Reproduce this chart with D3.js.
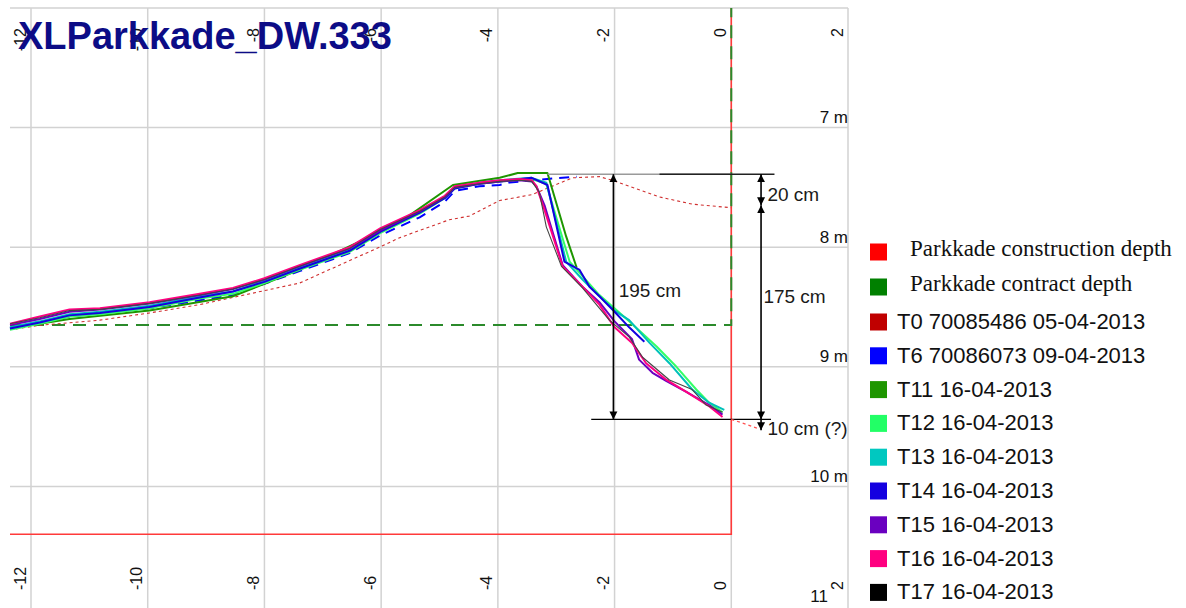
<!DOCTYPE html>
<html>
<head>
<meta charset="utf-8">
<script src="https://cdn.jsdelivr.net/npm/d3@7/dist/d3.min.js"></script>
<style>
  body { margin: 0; background: #fff; }
  svg { display: block; font-family: "Liberation Sans", Arial, sans-serif; }
</style>
</head>
<body>
<svg id="chart" width="1186" height="608"></svg>
<script>
// --- data (distance in m, depth in m) ---
const title = "XLParkkade_DW.333";
const xTicks = [-12, -10, -8, -6, -4, -2, 0, 2];
const yTicks = [7, 8, 9, 10, 11];
const yTickLabels = ["7 m", "8 m", "9 m", "10 m", "11"];
const gridDepths = [6, 7, 8, 9, 10];

const constructionDepth = [[-12.36, 10.40], [0, 10.40], [0, 6]];
const contractDepth = [[-12.36, 8.65], [0, 8.65], [0, 6]];

const t0 = [[-12.36,8.69],[-11.80,8.65],[-10.82,8.61],[-9.97,8.55],[-9.11,8.48],[-7.97,8.36],[-7.40,8.30],
  [-6.03,8.00],[-5.68,7.92],[-4.83,7.77],[-4.49,7.74],[-3.97,7.61],[-3.41,7.56],[-3.07,7.49],[-2.72,7.42],
  [-2.26,7.41],[-2.04,7.44],[-1.23,7.58],[-0.67,7.64],[0,7.67]];
const t6 = [[-12.36,8.68],[-11.34,8.58],[-9.97,8.51],[-8.54,8.40],[-7.40,8.20],[-6.54,8.05],[-6.01,7.90],
  [-5.34,7.75],[-4.91,7.62],[-4.74,7.53],[-4.32,7.49],[-3.97,7.48],[-3.80,7.46],[-3.42,7.44],[-2.65,7.41]];
const t11 = [[-12.36,8.68],[-11.34,8.60],[-9.97,8.53],[-8.54,8.41],[-7.40,8.19],[-6.01,7.87],[-5.68,7.79],
  [-4.77,7.48],[-3.97,7.42],[-3.66,7.38],[-3.15,7.38],[-2.83,7.91],[-2.65,8.17]];
const t12 = [[-12.36,8.69],[-11.85,8.64],[-11.34,8.58],[-10.82,8.56],[-9.97,8.51],[-9.11,8.43],[-8.54,8.39],
  [-8.00,8.30],[-7.40,8.19],[-6.54,8.04],[-6.01,7.88],[-5.34,7.72],[-4.91,7.59],[-4.74,7.51],[-4.32,7.47],
  [-3.97,7.45],[-3.42,7.43],[-3.17,7.47],[-3.00,7.75],[-2.77,8.12],[-2.26,8.40],[-1.75,8.62],[-1.28,8.83],
  [-0.94,9.00],[-0.60,9.19],[-0.38,9.30],[-0.15,9.38]];
const t13 = [[-12.36,8.67],[-11.85,8.62],[-11.34,8.56],[-10.82,8.54],[-9.97,8.49],[-9.11,8.41],[-8.54,8.37],
  [-8.00,8.28],[-7.40,8.17],[-6.54,8.02],[-6.01,7.86],[-5.34,7.71],[-4.91,7.58],[-4.74,7.50],[-4.32,7.46],
  [-3.97,7.44],[-3.42,7.42],[-3.17,7.46],[-3.03,7.73],[-2.83,8.12],[-2.55,8.27],[-2.26,8.41],[-2.00,8.53],
  [-1.75,8.61],[-1.40,8.80],[-1.06,8.97],[-0.67,9.19],[-0.38,9.30],[-0.12,9.36]];
const t14 = [[-12.36,8.68],[-11.85,8.63],[-11.34,8.57],[-10.82,8.55],[-9.97,8.50],[-9.11,8.42],[-8.54,8.37],
  [-8.00,8.29],[-7.40,8.18],[-6.54,8.03],[-6.01,7.87],[-5.34,7.71],[-4.91,7.59],[-4.74,7.51],[-4.32,7.47],
  [-3.97,7.45],[-3.42,7.42],[-3.15,7.48],[-2.86,8.12],[-2.60,8.19],[-2.43,8.33],[-2.26,8.41],[-2.00,8.54],
  [-1.75,8.67],[-1.49,8.79]];
const t15 = [[-12.36,8.65],[-11.85,8.60],[-11.34,8.54],[-10.82,8.52],[-9.97,8.47],[-9.11,8.40],[-8.54,8.35],
  [-8.00,8.27],[-7.40,8.16],[-6.54,8.01],[-6.01,7.86],[-5.34,7.70],[-4.91,7.58],[-4.74,7.50],[-4.32,7.47],
  [-3.97,7.45],[-3.63,7.44],[-3.42,7.45],[-3.34,7.49],[-3.20,7.65],[-2.89,8.15],[-2.55,8.33],[-2.26,8.46],
  [-2.00,8.62],[-1.70,8.77],[-1.58,8.94],[-1.35,9.05],[-1.11,9.12],[-0.77,9.21],[-0.38,9.32],[-0.15,9.40]];
const t16 = [[-12.36,8.64],[-11.85,8.58],[-11.34,8.52],[-10.82,8.51],[-9.97,8.46],[-9.11,8.39],[-8.54,8.34],
  [-8.00,8.26],[-7.40,8.15],[-6.54,8.00],[-6.01,7.84],[-5.34,7.69],[-4.91,7.57],[-4.74,7.49],[-4.32,7.46],
  [-3.97,7.44],[-3.63,7.43],[-3.42,7.44],[-3.34,7.49],[-3.20,7.69],[-2.89,8.16],[-2.55,8.33],[-2.26,8.48],
  [-2.00,8.67],[-1.70,8.80],[-1.46,8.97],[-1.11,9.11],[-0.77,9.21],[-0.38,9.33],[-0.15,9.42]];
const t17 = [[-12.36,8.64],[-11.85,8.59],[-11.34,8.53],[-10.82,8.52],[-9.97,8.47],[-9.11,8.40],[-8.54,8.35],
  [-8.00,8.27],[-7.40,8.16],[-6.54,8.01],[-6.01,7.85],[-5.34,7.70],[-4.91,7.58],[-4.74,7.50],[-4.32,7.47],
  [-3.97,7.45],[-3.63,7.44],[-3.42,7.45],[-3.29,7.54],[-3.17,7.83],[-2.91,8.16],[-2.55,8.34],[-2.09,8.61],
  [-1.75,8.75],[-1.52,8.92],[-1.06,9.11],[-0.67,9.19],[-0.43,9.32],[-0.15,9.38]];

// annotation: reference lines, arrows [x, fromDepth, toDepth], labels
const refTopGrey = [[-3.15, 7.39], [0, 7.39]];
const refTopBlack = [[-1.23, 7.39], [0.74, 7.39]];
const refBottom = [[-2.40, 9.44], [0.68, 9.44]];
const extrapolation = [[0, 9.44], [0.25, 9.48], [0.48, 9.52]];
const arrows = [[-2.02, 7.39, 9.44], [0.51, 7.39, 7.65], [0.51, 7.65, 9.44]];
const arrowDown = [0.51, 9.44, 9.53];
const noteTexts = ["195 cm", "20 cm", "175 cm", "10 cm (?)"];
const notePos = [[-1.93, 8.42], [0.62, 7.61], [0.55, 8.47], [0.62, 9.57]];

const legendLabels = ["Parkkade construction depth", "Parkkade contract depth",
  "T0 70085486 05-04-2013", "T6 70086073 09-04-2013", "T11 16-04-2013", "T12 16-04-2013",
  "T13 16-04-2013", "T14 16-04-2013", "T15 16-04-2013", "T16 16-04-2013", "T17 16-04-2013"];
const legendColors = ["#ff0000", "#008000", "#c00000", "#0000ff", "#1e9600", "#22ff66",
  "#00c8c0", "#1400e0", "#6a00c0", "#ff0080", "#000000"];

// --- drawing ---
const svg = d3.select("#chart");
const x = d3.scaleLinear().domain([-12.36, 2]).range([10, 848]);
const y = d3.scaleLinear().domain([6, 11]).range([8, 606]);
const line = d3.line().x(d => x(d[0])).y(d => y(d[1]));

// grid
svg.append("g").selectAll("line").data(xTicks).join("line")
  .attr("x1", d => x(d)).attr("x2", d => x(d))
  .attr("y1", y(6)).attr("y2", 608)
  .attr("stroke", "#d2d2d2").attr("stroke-width", 1.5);
svg.append("g").selectAll("line").data(gridDepths).join("line")
  .attr("x1", x(-12.36)).attr("x2", x(2))
  .attr("y1", d => y(d)).attr("y2", d => y(d))
  .attr("stroke", "#d2d2d2").attr("stroke-width", 1.5);

// axes labels (rotated)
const topAxis = svg.append("g")
  .call(d3.axisTop(x).tickValues(xTicks).tickSize(0).tickFormat(d => String(d)));
const bottomAxis = svg.append("g")
  .call(d3.axisBottom(x).tickValues(xTicks).tickSize(0).tickFormat(d => String(d)));
[topAxis, bottomAxis].forEach(g => {
  g.select(".domain").remove();
  g.selectAll("text")
    .attr("font-family", "'Liberation Sans', Arial, sans-serif")
    .attr("font-size", 16).attr("fill", "#111")
    .attr("transform", "rotate(-90)").attr("y", -6).attr("dy", 0);
});
topAxis.selectAll("text").attr("x", -28).attr("text-anchor", "end");
bottomAxis.selectAll("text").attr("x", -590).attr("text-anchor", "start");

const rightAxis = svg.append("g").attr("transform", `translate(${x(2)},0)`)
  .call(d3.axisRight(y).tickValues(yTicks).tickSize(0).tickFormat((d, i) => yTickLabels[i]));
rightAxis.select(".domain").remove();
rightAxis.selectAll("text")
  .attr("font-family", "'Liberation Sans', Arial, sans-serif")
  .attr("font-size", 17).attr("fill", "#111")
  .attr("x", 0).attr("y", -5).attr("dy", 0).attr("text-anchor", "end");
rightAxis.selectAll("text").filter(d => d === 11).attr("x", -20);

// depth limits
svg.append("path").datum(constructionDepth).attr("d", line)
  .attr("fill", "none").attr("stroke", "#ff3a3a").attr("stroke-width", 1.6);
svg.append("path").datum(contractDepth).attr("d", line)
  .attr("fill", "none").attr("stroke", "#2b8a2b").attr("stroke-width", 2)
  .attr("stroke-dasharray", "13,8");

// survey profiles
const series = [
  { data: t0, color: "#d03030", width: 1.1, dash: "3,3" },
  { data: t6, color: "#0000ff", width: 2, dash: "10,7" },
  { data: t11, color: "#1e9600", width: 2 },
  { data: t12, color: "#33ff66", width: 2 },
  { data: t13, color: "#00c0bb", width: 2 },
  { data: t14, color: "#1400e0", width: 2 },
  { data: t15, color: "#6a00c0", width: 2 },
  { data: t16, color: "#ff0080", width: 2 },
  { data: t17, color: "#444444", width: 1.1 }
];
svg.append("g").selectAll("path").data(series).join("path")
  .attr("d", d => line(d.data))
  .attr("fill", "none")
  .attr("stroke", d => d.color)
  .attr("stroke-width", d => d.width)
  .attr("stroke-dasharray", d => d.dash || null)
  .attr("stroke-linejoin", "round");

// annotations
const defs = svg.append("defs");
defs.append("marker").attr("id", "head")
  .attr("viewBox", "0 0 10 10").attr("refX", 10).attr("refY", 5)
  .attr("markerWidth", 8).attr("markerHeight", 10).attr("markerUnits", "userSpaceOnUse")
  .attr("orient", "auto-start-reverse")
  .append("path").attr("d", "M0,0 L10,5 L0,10 z").attr("fill", "#000");

svg.append("path").datum(refTopGrey).attr("d", line).attr("stroke", "#9a9a9a").attr("stroke-width", 1.3);
svg.append("path").datum(refTopBlack).attr("d", line).attr("stroke", "#222").attr("stroke-width", 1.3);
svg.append("path").datum(refBottom).attr("d", line).attr("stroke", "#000").attr("stroke-width", 1.3);
svg.append("path").datum(extrapolation).attr("d", line.curve(d3.curveMonotoneX))
  .attr("fill", "none").attr("stroke", "#ff5050").attr("stroke-width", 1.2).attr("stroke-dasharray", "3,3");
line.curve(d3.curveLinear);

svg.append("g").selectAll("line").data(arrows).join("line")
  .attr("x1", d => x(d[0])).attr("x2", d => x(d[0]))
  .attr("y1", d => y(d[1])).attr("y2", d => y(d[2]))
  .attr("stroke", "#000").attr("stroke-width", 1.6)
  .attr("marker-start", "url(#head)").attr("marker-end", "url(#head)");
svg.append("line")
  .attr("x1", x(arrowDown[0])).attr("x2", x(arrowDown[0]))
  .attr("y1", y(arrowDown[1])).attr("y2", y(arrowDown[2]))
  .attr("stroke", "#000").attr("stroke-width", 1.6).attr("marker-end", "url(#head)");

svg.append("g").selectAll("text").data(noteTexts).join("text")
  .attr("x", (d, i) => x(notePos[i][0])).attr("y", (d, i) => y(notePos[i][1]))
  .attr("font-size", 19).attr("fill", "#1a1a1a")
  .text(d => d);

// title
svg.append("text").attr("x", 18).attr("y", 49)
  .attr("font-size", 38).attr("font-weight", "bold").attr("fill", "#0c0c86")
  .text(title);

// legend
const legend = svg.append("g").selectAll("g").data(legendLabels).join("g")
  .attr("transform", (d, i) => `translate(870,${i < 2 ? 252 + i * 35 : 322 + (i - 2) * 33.8})`);
legend.append("rect").attr("x", 0).attr("y", -8.5).attr("width", 17).attr("height", 17)
  .attr("fill", (d, i) => legendColors[i]);
legend.append("text")
  .attr("x", (d, i) => i < 2 ? 40 : 27)
  .attr("y", (d, i) => i < 2 ? 4 : 7)
  .attr("font-family", (d, i) => i < 2 ? "'Liberation Serif', 'Times New Roman', serif" : "'Liberation Sans', Arial, sans-serif")
  .attr("font-size", (d, i) => i < 2 ? 23 : 22)
  .attr("fill", "#111")
  .text(d => d);
</script>
</body>
</html>
